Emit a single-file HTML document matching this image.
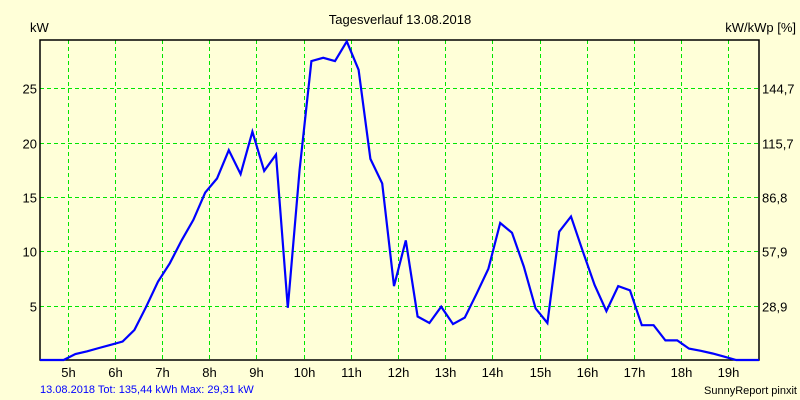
<!DOCTYPE html>
<html><head><meta charset="utf-8"><style>
html,body{margin:0;padding:0;background:#ffffd8;}
svg{display:block;font-family:"Liberation Sans",sans-serif;}
</style></head><body>
<svg width="800" height="400" viewBox="0 0 800 400">
<rect x="0" y="0" width="800" height="400" fill="#ffffd8"/>
<text x="400" y="24" font-size="13" text-anchor="middle" fill="#000">Tagesverlauf 13.08.2018</text>
<text x="30" y="32" font-size="13" fill="#000">kW</text>
<text x="796" y="32" font-size="13" text-anchor="end" fill="#000">kW/kWp [%]</text>
<g id="grid"></g>
<g id="axes"></g>
<g id="series"></g>
<text x="40" y="393" font-size="11" fill="#0000ff">13.08.2018 Tot: 135,44 kWh Max: 29,31 kW</text>
<text x="797" y="394" font-size="11" text-anchor="end" fill="#000">SunnyReport pinxit</text>
</svg>
<script>
const hourTicks = [5,6,7,8,9,10,11,12,13,14,15,16,17,18,19];
const leftTicks = [5,10,15,20,25];
const rightTickLabels = ["28,9","57,9","86,8","115,7","144,7"];
const startHour = 4.4167;
const stepHours = 0.25;
const power = [0,0,0,0.55,0.8,1.1,1.4,1.7,2.76,4.9,7.2,8.9,11.0,12.9,15.4,16.7,19.3,17.1,21.0,17.4,18.9,4.8,17.5,27.5,27.8,27.5,29.31,26.7,18.5,16.25,6.8,11.0,4.0,3.4,4.9,3.3,3.9,6.1,8.4,12.6,11.7,8.6,4.75,3.4,11.8,13.2,10.0,6.9,4.5,6.8,6.4,3.2,3.2,1.8,1.8,1.05,0.85,0.6,0.3,0,0,0];

const NS="http://www.w3.org/2000/svg";
const L=40,R=759,T=40,B=360;
const xMin=startHour, xMax=startHour+(R-L)/47.2;
const yMax=(B-T)/10.87;
function xs(h){return L+(h-xMin)/(xMax-xMin)*(R-L);}
function ys(v){return B-v/yMax*(B-T);}
function mk(tag,attrs,parent){const e=document.createElementNS(NS,tag);for(const k in attrs)e.setAttribute(k,attrs[k]);parent.appendChild(e);return e;}
const grid=document.getElementById('grid'),axes=document.getElementById('axes'),series=document.getElementById('series');
hourTicks.forEach(h=>{
  const x=Math.round(xs(h))+0.5;
  const ln=mk('line',{x1:x,x2:x,y1:T,y2:B,stroke:'#00e600','stroke-width':1,'stroke-dasharray':'4,3'},grid);
  
  
  const t=mk('text',{x:x,y:B+17,'font-size':13,'text-anchor':'middle',fill:'#000'},axes);
  t.textContent=h+'h';
  
  
});
leftTicks.forEach((v,i)=>{
  const y=Math.round(ys(v))+0.5;
  const ln=mk('line',{x1:L,x2:R,y1:y,y2:y,stroke:'#00e600','stroke-width':1,'stroke-dasharray':'4,3'},grid);
  
  
  const t=mk('text',{x:37,y:y+5,'font-size':13,'text-anchor':'end',fill:'#000'},axes);
  t.textContent=v;
  
  
  const t2=mk('text',{x:762,y:y+5,'font-size':13,fill:'#000'},axes);
  t2.textContent=rightTickLabels[i];
  
  
});
const frame=mk('rect',{x:L,y:T,width:R-L,height:B-T,fill:'none',stroke:'#000','stroke-width':1.5},axes);


const pts=power.map((v,i)=>{const h=startHour+i*stepHours;return [Math.min(xs(h),R),ys(v)];});
const pl=mk('polyline',{points:pts.map(p=>p[0].toFixed(1)+','+p[1].toFixed(1)).join(' '),fill:'none',stroke:'#0000ff','stroke-width':2.2,'stroke-linejoin':'miter'},series);


</script>
</body></html>
